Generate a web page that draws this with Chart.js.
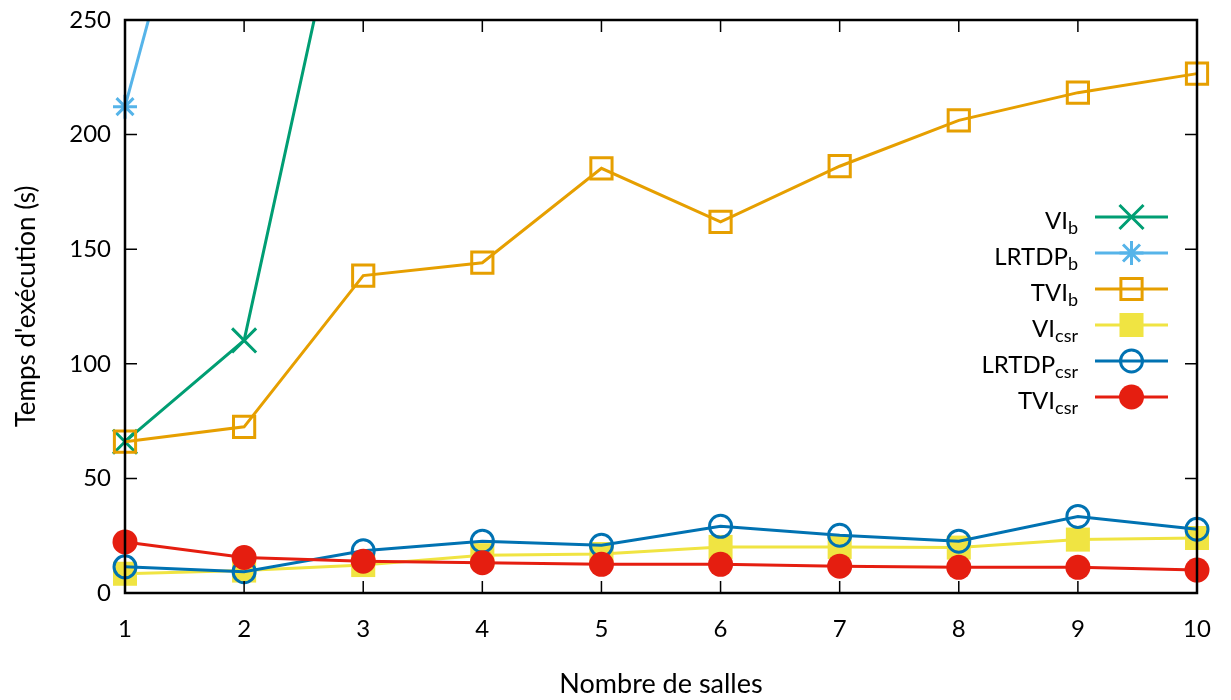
<!DOCTYPE html>
<html>
<head>
<meta charset="utf-8">
<script src="https://cdn.jsdelivr.net/npm/chart.js@4.4.1/dist/chart.umd.min.js"></script>
<style>
  html, body { margin: 0; padding: 0; background: #fff; }
  #wrap { width: 1231px; height: 700px; }
</style>
</head>
<body>
<div id="wrap"><canvas id="chart"></canvas></div>
<script>
// Data
const salles = [1, 2, 3, 4, 5, 6, 7, 8, 9, 10];
const viB = [66, 110.2, 348];
const lrtdpB = [212.2, 404];
const tviB = [66, 72.5, 138.5, 144.1, 185.3, 161.9, 186.2, 206.2, 218.3, 226.6];
const viCsr = [8.4, 9.8, 12.2, 16.5, 17, 20.1, 20.1, 19.8, 23.3, 24];
const lrtdpCsr = [11.4, 9.3, 18.4, 22.6, 20.8, 29.1, 25.2, 22.6, 33.4, 27.8];
const tviCsr = [22.3, 15.5, 13.9, 13.2, 12.5, 12.5, 11.7, 11.2, 11.2, 10];
const yTicks = [0, 50, 100, 150, 200, 250];
const labelBase = ['VI', 'LRTDP', 'TVI', 'VI', 'LRTDP', 'TVI'];
const labelSub = ['b', 'b', 'b', 'csr', 'csr', 'csr'];

const FONT = 'Lato';

function toPoints(values) {
  return values.map((v, i) => ({ x: salles[i], y: v }));
}

// one entry per series: values, colour, marker
const series = [
  { data: viB, color: '#009e73', style: 'crossRot', radius: 17, fill: false },
  { data: lrtdpB, color: '#56b4e9', style: 'star', radius: 12, fill: false },
  { data: tviB, color: '#e69f00', style: 'rect', radius: 15, fill: false },
  { data: viCsr, color: '#f0e442', style: 'rect', radius: 17, fill: true },
  { data: lrtdpCsr, color: '#0072b2', style: 'circle', radius: 11, fill: false },
  { data: tviCsr, color: '#e51e10', style: 'circle', radius: 12.5, fill: true },
];

const datasets = series.map((s, i) => ({
  label: labelBase[i] + labelSub[i],
  data: toPoints(s.data),
  borderColor: s.color,
  borderWidth: 3,
  pointStyle: s.style,
  pointRadius: s.radius,
  pointBorderColor: s.color,
  pointBackgroundColor: s.fill ? s.color : 'rgba(0,0,0,0)',
  pointBorderWidth: s.fill ? 0 : 3,
  order: 5 - i,
  clip: { left: 20, right: 20, top: 0, bottom: 20 },
  tension: 0,
}));

// gnuplot-like frame with inward ticks on all four sides
const framePlugin = {
  id: 'frame',
  afterDraw(chart) {
    const { ctx, chartArea: a, scales } = chart;
    const len = 12;
    ctx.save();
    ctx.strokeStyle = '#000';
    ctx.lineWidth = 1.5;
    ctx.beginPath();
    salles.forEach(v => {
      const x = scales.x.getPixelForValue(v);
      ctx.moveTo(x, a.bottom); ctx.lineTo(x, a.bottom - len);
      ctx.moveTo(x, a.top); ctx.lineTo(x, a.top + len);
    });
    yTicks.forEach(v => {
      const y = scales.y.getPixelForValue(v);
      ctx.moveTo(a.left, y); ctx.lineTo(a.left + len, y);
      ctx.moveTo(a.right, y); ctx.lineTo(a.right - len, y);
    });
    ctx.stroke();
    ctx.lineWidth = 2.5;
    ctx.strokeRect(a.left, a.top, a.right - a.left, a.bottom - a.top);
    ctx.restore();
  }
};

// legend with subscripts, inside the plot on the right
const legendPlugin = {
  id: 'gnuLegend',
  afterDraw(chart) {
    const { ctx, chartArea: a } = chart;
    const textRight = a.right - 119;
    const lineStart = a.right - 102;
    const lineEnd = a.right - 29;
    const y0 = a.top + 197;
    const step = 36;
    ctx.save();
    series.forEach((s, i) => {
      const y = y0 + i * step;
      ctx.strokeStyle = s.color;
      ctx.lineWidth = 3;
      ctx.beginPath();
      ctx.moveTo(lineStart, y);
      ctx.lineTo(lineEnd, y);
      ctx.stroke();

      ctx.fillStyle = s.fill ? s.color : 'rgba(0,0,0,0)';
      Chart.helpers.drawPoint(ctx, {
        pointStyle: s.style,
        radius: s.radius,
        rotation: 0,
        borderWidth: s.fill ? 0 : 3,
      }, (lineStart + lineEnd) / 2, y);

      ctx.fillStyle = '#000';
      ctx.textBaseline = 'alphabetic';
      ctx.font = '18px ' + FONT;
      const subW = ctx.measureText(labelSub[i]).width;
      ctx.textAlign = 'left';
      ctx.fillText(labelSub[i], textRight - subW, y + 17);
      ctx.font = '24px ' + FONT;
      ctx.textAlign = 'right';
      ctx.fillText(labelBase[i], textRight - subW, y + 12);
    });
    ctx.restore();
  }
};

new Chart(document.getElementById('chart'), {
  type: 'line',
  data: { datasets },
  options: {
    responsive: true,
    maintainAspectRatio: false,
    animation: false,
    layout: { padding: { top: 17, right: 34, left: 0, bottom: 0 } },
    plugins: { legend: { display: false }, tooltip: { enabled: false } },
    scales: {
      x: {
        type: 'linear',
        min: 1,
        max: 10,
        afterFit: s => { s.height = 107; s.paddingLeft = 0; s.paddingRight = 0; },
        afterBuildTicks: s => { s.ticks = salles.map(v => ({ value: v })); },
        grid: { display: false, drawTicks: false },
        border: { display: false },
        ticks: { color: '#000', font: { family: FONT, size: 24 }, padding: 22, maxRotation: 0 },
        title: { display: true, text: 'Nombre de salles', color: '#000',
                 font: { family: FONT, size: 27 }, padding: { top: 0, bottom: 0 } },
      },
      y: {
        min: 0,
        max: 250,
        afterFit: s => { s.width = 125; s.paddingTop = 0; s.paddingBottom = 0; },
        afterBuildTicks: s => { s.ticks = yTicks.map(v => ({ value: v })); },
        grid: { display: false, drawTicks: false },
        border: { display: false },
        ticks: { color: '#000', font: { family: FONT, size: 24 }, padding: 14 },
        title: { display: true, text: "Temps d'exécution (s)", color: '#000',
                 font: { family: FONT, size: 26 }, padding: { top: 11, bottom: 0 } },
      },
    },
  },
  plugins: [framePlugin, legendPlugin],
});
</script>
</body>
</html>
